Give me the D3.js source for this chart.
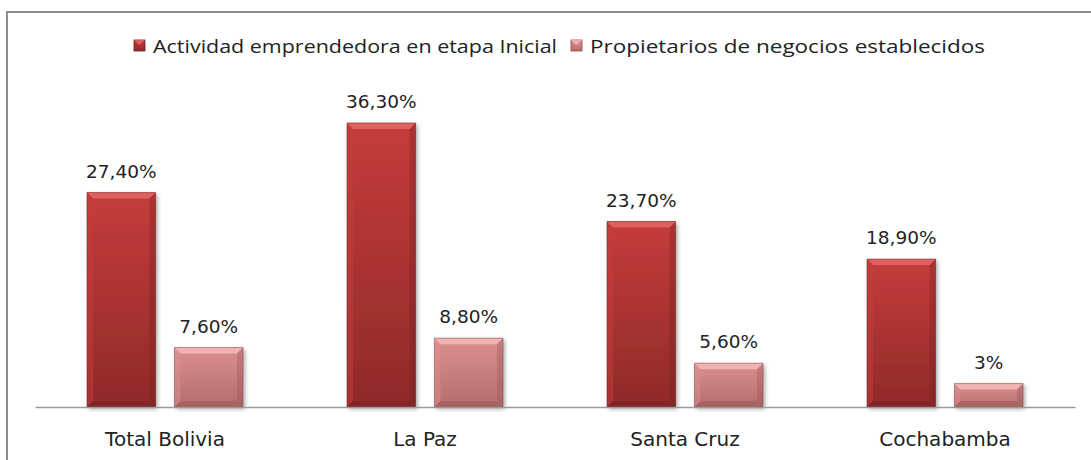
<!DOCTYPE html>
<html><head><meta charset="utf-8">
<script src="https://cdn.jsdelivr.net/npm/d3@7"></script>
<style>body{margin:0;background:#fff;} svg{display:block;}</style>
</head><body>
<script>
const categories = ["Total Bolivia", "La Paz", "Santa Cruz", "Cochabamba"];
const seriesNames = ["Actividad emprendedora en etapa Inicial", "Propietarios de negocios establecidos"];
const tea = [27.4, 36.3, 23.7, 18.9];
const established = [7.6, 8.8, 5.6, 3.0];
const teaLabels = ["27,40%", "36,30%", "23,70%", "18,90%"];
const estLabels = ["7,60%", "8,80%", "5,60%", "3%"];

const W = 1091, H = 460;
const svg = d3.select("body").append("svg").attr("width", W).attr("height", H);
const defs = svg.append("defs");

const colors = [
  {top:"#c53c3b", bot:"#8f2a29", light:"#e46666", dark:"#6e1e1e"},
  {top:"#dc9090", bot:"#b56d6c", light:"#f3baba", dark:"#8a4c4c"}
];
colors.forEach((c,i)=>{
  const g = defs.append("linearGradient").attr("id","g"+i).attr("x1",0).attr("y1",0).attr("x2",0).attr("y2",1);
  g.append("stop").attr("offset","0%").attr("stop-color",c.top);
  g.append("stop").attr("offset","100%").attr("stop-color",c.bot);
});
const f = defs.append("filter").attr("id","sh").attr("x","-20%").attr("y","-20%").attr("width","150%").attr("height","150%");
f.append("feGaussianBlur").attr("in","SourceAlpha").attr("stdDeviation",2);
f.append("feOffset").attr("dx",2).attr("dy",2).attr("result","b");
f.append("feComponentTransfer").append("feFuncA").attr("type","linear").attr("slope",0.35);
const m = f.append("feMerge"); m.append("feMergeNode"); m.append("feMergeNode").attr("in","SourceGraphic");

// border
svg.append("rect").attr("x",7).attr("y",12).attr("width",1100).attr("height",470)
  .attr("fill","none").attr("stroke","#8c8c8c").attr("stroke-width",2);

const x0 = d3.scaleBand().domain(categories).range([35,1075]).paddingInner(0).paddingOuter(0);
const x1 = d3.scaleBand().domain([0,1]).range([52,208]).paddingInner(0.2155);
const y = d3.scaleLinear().domain([0,40]).range([407, 94]);

const data = [];
categories.forEach((c,i)=>{
  data.push({cat:c, s:0, v:tea[i], label:teaLabels[i]});
  data.push({cat:c, s:1, v:established[i], label:estLabels[i]});
});

const bars = svg.append("g").selectAll("g").data(data).join("g")
  .attr("transform", d=>`translate(${x0(d.cat)+x1(d.s)},${y(d.v)})`);
const bw = x1.bandwidth();
const bev = 6;
bars.append("rect").attr("width",bw).attr("height",d=>y(0)-y(d.v))
  .attr("fill",d=>`url(#g${d.s})`).attr("filter","url(#sh)");
bars.append("polygon").attr("points",d=>`0,0 ${bw},0 ${bw-bev},${bev} ${bev},${bev}`)
  .attr("fill",d=>colors[d.s].light).attr("opacity",0.85);
bars.append("polygon").attr("points",d=>{const h=y(0)-y(d.v);return `0,0 ${bev},${bev} ${bev},${h-bev} 0,${h}`;})
  .attr("fill",d=>colors[d.s].top).attr("opacity",0.5);
bars.append("polygon").attr("points",d=>{const h=y(0)-y(d.v);return `${bw},0 ${bw},${h} ${bw-bev},${h-bev} ${bw-bev},${bev}`;})
  .attr("fill",d=>colors[d.s].dark).attr("opacity",0.3);
bars.append("polygon").attr("points",d=>{const h=y(0)-y(d.v);return `0,${h} ${bw},${h} ${bw-bev},${h-bev} ${bev},${h-bev}`;})
  .attr("fill",d=>colors[d.s].dark).attr("opacity",0.35);
bars.append("rect").attr("width",bw).attr("height",d=>y(0)-y(d.v))
  .attr("fill","none").attr("stroke",d=>colors[d.s].dark).attr("stroke-opacity",0.5).attr("stroke-width",1);

// value labels
svg.append("g").selectAll("text").data(data).join("text")
  .attr("x",d=>x0(d.cat)+x1(d.s)+bw/2).attr("y",d=>y(d.v)-15)
  .attr("text-anchor","middle").attr("font-family","DejaVu Sans, Verdana, sans-serif")
  .attr("font-size",18.5).attr("fill","#222").text(d=>d.label);

// axis
const ax = svg.append("g").attr("transform","translate(0,407)").call(d3.axisBottom(x0).tickSize(0).tickPadding(25));
ax.select(".domain").attr("stroke","#9a9a9a").attr("stroke-width",1.5);
ax.selectAll("text").attr("font-family","DejaVu Sans, Verdana, sans-serif").attr("font-size",20).attr("fill","#222");

// legend
const leg = [{x:134, tx:153, tw:404},{x:571, tx:590, tw:395}];
leg.forEach((l,i)=>{
  const gg = svg.append("g");
  gg.append("rect").attr("x",l.x).attr("y",40).attr("width",11).attr("height",11).attr("fill",`url(#g${i})`)
    .attr("stroke",colors[i].dark).attr("stroke-width",0.8);
  gg.append("polygon").attr("points",`${l.x},40 ${l.x+11},40 ${l.x+5.5},45`).attr("fill",colors[i].light).attr("opacity",0.8);
  gg.append("text").attr("x",l.tx).attr("y",53).attr("font-family","Open Sans, Liberation Sans, sans-serif")
    .attr("font-size",19).attr("fill","#222").attr("textLength",l.tw).attr("lengthAdjust","spacingAndGlyphs").text(seriesNames[i]);
});
</script>
</body></html>
